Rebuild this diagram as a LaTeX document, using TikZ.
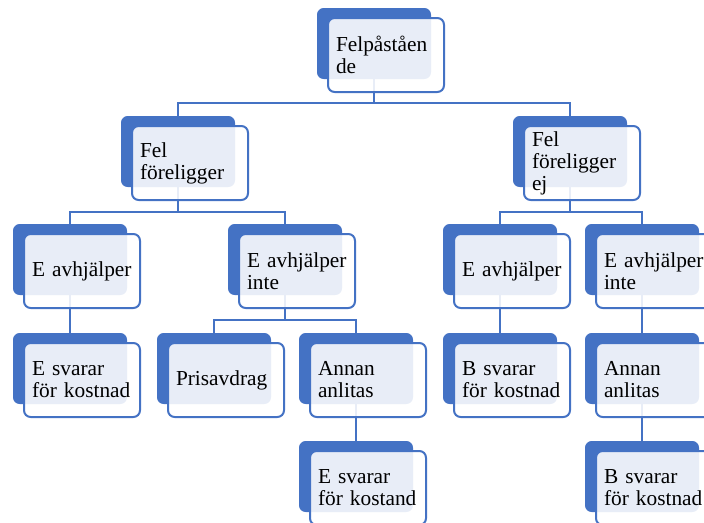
\documentclass[tikz,border=0pt]{standalone}
\usepackage{fontspec}
\setmainfont{Liberation Serif}
\usetikzlibrary{backgrounds}
\definecolor{boxblue}{HTML}{4472C4}
\tikzset{
	backbox/.style={fill=boxblue,rounded corners=5pt,minimum width=85.5pt,minimum height=53.25pt,inner sep=0pt},
	frontbox/.style={draw=boxblue,line width=1.5pt,fill=white,fill opacity=0.88,text opacity=1,rounded corners=5pt,
		minimum width=87pt,minimum height=55.5pt,text width=75pt,inner xsep=6pt,align=left,
		font=\fontsize{16}{16.5}\selectfont},
	link/.style={draw=boxblue,line width=1.5pt}
}
\begin{document}
\begin{tikzpicture}[x=0.75pt,y=-0.75pt]
	\useasboundingbox (0,0) rectangle (704,522);
	% back boxes
	\node[backbox] (rootb)  at (374,43.5)  {};
	\node[backbox] (felb)   at (178,151.5) {};
	\node[backbox] (felejb) at (570,151.5) {};
	\node[backbox] (av1b)   at (70,259.5)  {};
	\node[backbox] (avi1b)  at (285,259.5) {};
	\node[backbox] (av2b)   at (500,259.5) {};
	\node[backbox] (avi2b)  at (642,259.5) {};
	\node[backbox] (sv1b)   at (70,368.5)  {};
	\node[backbox] (prisb)  at (214,368.5) {};
	\node[backbox] (ann1b)  at (356,368.5) {};
	\node[backbox] (sv2b)   at (500,368.5) {};
	\node[backbox] (ann2b)  at (642,368.5) {};
	\node[backbox] (sv3b)   at (356,476.5) {};
	\node[backbox] (sv4b)   at (642,476.5) {};
	% front boxes
	\node[frontbox] (root)  at ([shift={(12,11.5)}]rootb)  {Felpåståen\\de};
	\node[frontbox] (fel)   at ([shift={(12,11.5)}]felb)   {Fel\\föreligger};
	\node[frontbox] (felej) at ([shift={(12,11.5)}]felejb) {Fel\\föreligger\\ej};
	\node[frontbox] (av1)   at ([shift={(12,11.5)}]av1b)   {E~avhjälper};
	\node[frontbox] (avi1)  at ([shift={(12,11.5)}]avi1b)  {E~avhjälper\\inte};
	\node[frontbox] (av2)   at ([shift={(12,11.5)}]av2b)   {E~avhjälper};
	\node[frontbox] (avi2)  at ([shift={(12,11.5)}]avi2b)  {E~avhjälper\\inte};
	\node[frontbox] (sv1)   at ([shift={(12,11.5)}]sv1b)   {E svarar\\för~kostnad};
	\node[frontbox] (pris)  at ([shift={(12,11.5)}]prisb)  {Prisavdrag};
	\node[frontbox] (ann1)  at ([shift={(12,11.5)}]ann1b)  {Annan\\anlitas};
	\node[frontbox] (sv2)   at ([shift={(12,11.5)}]sv2b)   {B svarar\\för~kostnad};
	\node[frontbox] (ann2)  at ([shift={(12,11.5)}]ann2b)  {Annan\\anlitas};
	\node[frontbox] (sv3)   at ([shift={(12,11.5)}]sv3b)   {E svarar\\för~kostand};
	\node[frontbox] (sv4)   at ([shift={(12,11.5)}]sv4b)   {B svarar\\för~kostnad};
	% connectors
	\begin{scope}[on background layer]
	\draw[link] (rootb.south) -- ++(0,23.5) -| (felb.north);
	\draw[link] (rootb.south) -- ++(0,23.5) -| (felejb.north);
	\draw[link] (felb.south) -- ++(0,25) -| (av1b.north);
	\draw[link] (felb.south) -- ++(0,25) -| (avi1b.north);
	\draw[link] (felejb.south) -- ++(0,25) -| (av2b.north);
	\draw[link] (felejb.south) -- ++(0,25) -| (avi2b.north);
	\draw[link] (avi1b.south) -- ++(0,25) -| (prisb.north);
	\draw[link] (avi1b.south) -- ++(0,25) -| (ann1b.north);
	\draw[link] (av1b.south) -- (sv1b.north);
	\draw[link] (av2b.south) -- (sv2b.north);
	\draw[link] (avi2b.south) -- (ann2b.north);
	\draw[link] (ann1b.south) -- (sv3b.north);
	\draw[link] (ann2b.south) -- (sv4b.north);
	\end{scope}
\end{tikzpicture}
\end{document}
